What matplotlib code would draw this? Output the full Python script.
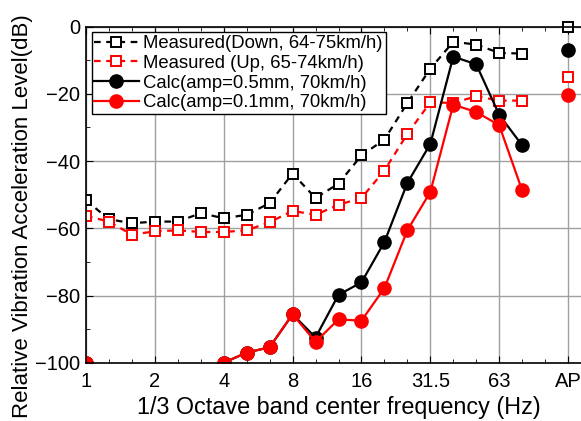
import numpy as np
import matplotlib
matplotlib.use("Agg")
import matplotlib.pyplot as plt

plt.rcParams['font.family'] = ['Liberation Sans', 'DejaVu Sans']

# 1/3 octave bands (index positions), AP plotted at index 21
bands = [1, 1.25, 1.6, 2, 2.5, 3.15, 4, 5, 6.3, 8, 10, 12.5, 16, 20, 25, 31.5, 40, 50, 63, 80]
tick_labels = ['1', '2', '4', '8', '16', '31.5', '63', 'AP']
tick_pos = [0, 3, 6, 9, 12, 15, 18, 21]

meas_down = [-51.7, -57.3, -58.5, -58.0, -58.0, -55.5, -57.0, -56.0, -52.5, -43.7,
             -51.0, -46.7, -38.3, -33.6, -22.7, -12.5, -4.5, -5.3, -7.8, -8.0]
meas_up = [-56.3, -58.0, -61.9, -60.9, -60.6, -61.1, -61.1, -60.6, -58.2, -54.8,
           -56.0, -53.0, -51.0, -42.8, -31.9, -22.5, -22.7, -20.7, -22.0, -22.0]
calc_05 = [-100, np.nan, np.nan, np.nan, np.nan, np.nan, -100, -97.0, -95.4, -85.6,
           -92.5, -79.8, -76.1, -64.1, -46.5, -34.9, -8.9, -11.2, -26.2, -35.3]
calc_01 = [-100, np.nan, np.nan, np.nan, np.nan, np.nan, -100, -97.0, -95.4, -85.6,
           -93.8, -87.1, -87.5, -77.8, -60.6, -49.2, -23.2, -25.4, -29.3, -48.7]
ap_vals = {'down': 0.0, 'up': -14.9, 'c05': -7.0, 'c01': -20.4}

x = np.arange(len(bands))
x_ap = 21

fig = plt.figure(figsize=(5.81, 4.21), dpi=100)
ax = fig.add_axes([86/581, 1-362.7/421, 505/581, (362.7-26.7)/421])

sq = dict(marker='s', markersize=7.5, markerfacecolor='white', markeredgewidth=1.4)
ci = dict(marker='o', markersize=9.5)

ax.plot(x, meas_down, color='black', linestyle=(0, (3, 2.5)), lw=1.6, label='Measured(Down, 64-75km/h)', **sq)
ax.plot(x, meas_up, color='red', linestyle=(0, (3, 2.5)), lw=1.6, label='Measured (Up, 65-74km/h)', **sq)
ax.plot(x, calc_05, color='black', lw=1.6, label='Calc(amp=0.5mm, 70km/h)', **ci)
ax.plot(x, calc_01, color='red', lw=1.6, label='Calc(amp=0.1mm, 70km/h)', **ci)

# AP values
ax.plot(x_ap, ap_vals['down'], color='black', linestyle='none', clip_on=False, **sq)
ax.plot(x_ap, ap_vals['up'], color='red', linestyle='none', **sq)
ax.plot(x_ap, ap_vals['c05'], color='black', linestyle='none', **ci)
ax.plot(x_ap, ap_vals['c01'], color='red', linestyle='none', **ci)

ax.set_xlim(0, 22)
ax.set_ylim(-100, 0)
ax.set_xticks(tick_pos)
ax.set_xticklabels(tick_labels)
ax.set_xticks(np.arange(0, 22), minor=True)
ax.set_yticks([-100, -80, -60, -40, -20, 0])
ax.set_yticks(np.arange(-100, 1, 10), minor=True)
ax.tick_params(which='both', direction='in', top=True, right=True, labelsize=14.5)
ax.tick_params(axis='x', pad=7)
ax.tick_params(axis='y', pad=4)
ax.tick_params(which='major', length=5)
ax.tick_params(which='minor', length=3)
ax.grid(True, which='major', color='#a0a0a0', lw=1)
ax.set_axisbelow(True)
for s in ax.spines.values():
    s.set_linewidth(1.2)

ax.set_xlabel('1/3 Octave band center frequency (Hz)', fontsize=16.8, labelpad=3)
ax.set_ylabel('Relative Vibration Acceleration Level(dB)', fontsize=16)
ax.yaxis.set_label_coords(-0.105, 0.4366)

leg = ax.legend(loc='upper left', fontsize=13.3, frameon=True, fancybox=False,
                edgecolor='black', framealpha=1, borderpad=0.15, labelspacing=0.15,
                handlelength=2.4, handletextpad=0.25, borderaxespad=0.3)
leg.get_frame().set_linewidth(1.0)

fig.savefig('out.png', dpi=100)
